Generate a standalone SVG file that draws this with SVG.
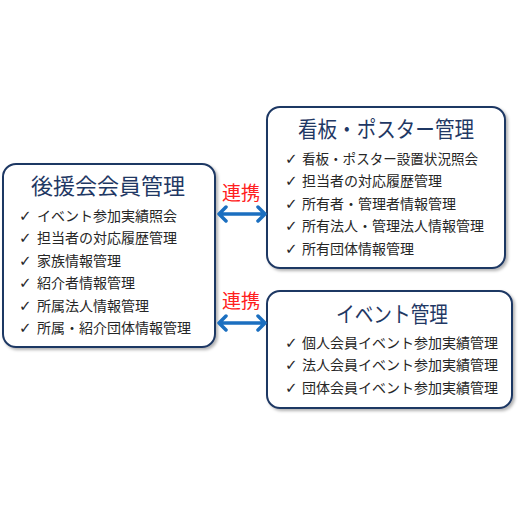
<svg xmlns="http://www.w3.org/2000/svg" width="520" height="520" viewBox="0 0 520 520">
<defs>
<filter id="sh" x="-5%" y="-5%" width="115%" height="115%">
<feDropShadow dx="2" dy="2" stdDeviation="1.5" flood-color="#000" flood-opacity="0.3"/>
</filter>
</defs>
<style>
.box{fill:#fff;stroke:#1F3864;stroke-width:2;filter:url(#sh)}
.title{font-family:"Noto Sans CJK JP",sans-serif;font-size:22px;fill:#1F3864;text-anchor:middle}
.item{font-family:"Noto Sans CJK JP",sans-serif;font-size:14px;fill:#262626}
.chk{font-family:"DejaVu Sans",sans-serif;font-size:15px;font-weight:bold;fill:#262626}
.lbl{font-family:"Noto Sans CJK JP",sans-serif;font-size:19px;fill:#FF2020;text-anchor:middle}
.conn{stroke:#1B6FC0;stroke-width:3.5;fill:none;stroke-linecap:round;stroke-linejoin:round}
</style>
<rect width="520" height="520" fill="#fff"/>
<g id="n-kouen">
<rect class="box" x="3" y="164" width="212" height="183" rx="13"/>
<text class="title" x="108" y="194">後援会会員管理</text>
<text class="chk" x="19" y="221">✓</text><text class="item" x="37" y="221">イベント参加実績照会</text>
<text class="chk" x="19" y="243">✓</text><text class="item" x="37" y="243">担当者の対応履歴管理</text>
<text class="chk" x="19" y="266">✓</text><text class="item" x="37" y="266">家族情報管理</text>
<text class="chk" x="19" y="288">✓</text><text class="item" x="37" y="288">紹介者情報管理</text>
<text class="chk" x="19" y="311">✓</text><text class="item" x="37" y="311">所属法人情報管理</text>
<text class="chk" x="19" y="333">✓</text><text class="item" x="37" y="333">所属・紹介団体情報管理</text>
</g>
<g id="n-kanban">
<rect class="box" x="267" y="107" width="238" height="161" rx="13"/>
<text class="title" x="386" y="137" textLength="176" lengthAdjust="spacingAndGlyphs">看板・ポスター管理</text>
<text class="chk" x="285" y="164">✓</text><text class="item" x="302" y="164" textLength="176" lengthAdjust="spacingAndGlyphs">看板・ポスター設置状況照会</text>
<text class="chk" x="285" y="186">✓</text><text class="item" x="302" y="186">担当者の対応履歴管理</text>
<text class="chk" x="285" y="209">✓</text><text class="item" x="302" y="209">所有者・管理者情報管理</text>
<text class="chk" x="285" y="231">✓</text><text class="item" x="302" y="231">所有法人・管理法人情報管理</text>
<text class="chk" x="285" y="254">✓</text><text class="item" x="302" y="254">所有団体情報管理</text>
</g>
<g id="n-event">
<rect class="box" x="267" y="291" width="245" height="117" rx="13"/>
<text class="title" x="392" y="322" textLength="112" lengthAdjust="spacingAndGlyphs">イベント管理</text>
<text class="chk" x="285" y="348">✓</text><text class="item" x="302" y="348">個人会員イベント参加実績管理</text>
<text class="chk" x="285" y="370">✓</text><text class="item" x="302" y="370">法人会員イベント参加実績管理</text>
<text class="chk" x="285" y="393">✓</text><text class="item" x="302" y="393">団体会員イベント参加実績管理</text>
</g>
<g id="connectors">
<path class="conn" d="M219,214 H265 M226,207 L219,214 L226,221 M258,207 L265,214 L258,221"/>
<path class="conn" d="M219,323 H265 M226,316 L219,323 L226,330 M258,316 L265,323 L258,330"/>
<text class="lbl" x="241" y="200">連携</text>
<text class="lbl" x="241" y="308">連携</text>
</g>
</svg>
